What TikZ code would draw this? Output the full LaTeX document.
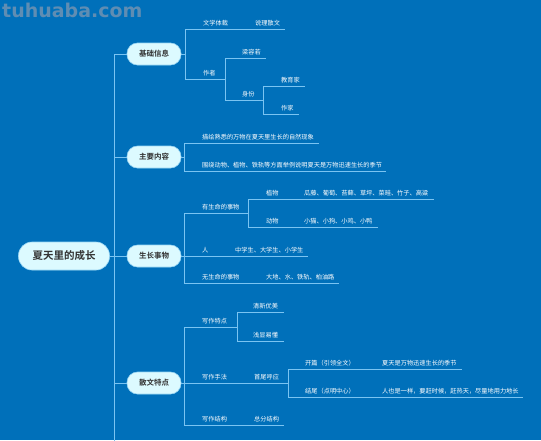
\documentclass[tikz,border=0pt]{standalone}
\usepackage{fontspec}
\newfontfamily\cjk{Noto Sans CJK SC}[BoldFont={Noto Sans CJK SC Bold}]
\setsansfont{DejaVu Sans}
\usepackage{xcolor}
\usepackage{tikz}
\usetikzlibrary{positioning,calc}
\definecolor{bgblue}{HTML}{0070BA}
\definecolor{linkblue}{HTML}{7AC4F2}
\definecolor{nodefill}{HTML}{DCFAFF}
\definecolor{nodeline}{HTML}{9AD6F4}
\definecolor{marktext}{HTML}{5F8DB3}

\begin{document}
\begin{tikzpicture}[
    x=1pt, y=-1pt,
    root/.style={rectangle, rounded corners=13.5pt, draw=nodeline, line width=0.6pt, fill=nodefill, minimum width=91pt, minimum height=28pt, text=black!80, font=\cjk\bfseries\fontsize{10.5}{12}\selectfont},
    topic/.style={rectangle, rounded corners=10.5pt, draw=nodeline, line width=0.6pt, fill=nodefill, minimum width=54pt, minimum height=22pt, text=black!80, font=\cjk\bfseries\fontsize{7.5}{9}\selectfont},
    leaf/.style={anchor=base west, inner sep=0pt, text=white, font=\cjk\fontsize{6.2}{7}\selectfont},
    link/.style={draw=linkblue, line width=0.8pt}
]
    \fill[bgblue] (0,0) rectangle (541,440);
    \useasboundingbox (0,0) rectangle (541,440);
    \node[anchor=base west, inner sep=0pt, text=marktext, font=\sffamily\bfseries\fontsize{19}{20}\selectfont] (mark) at (2,17.5) {tuhuaba.com};

    % Root
    \node[root] (root) at (64,256) {夏天里的成长};

    % Level 1
    \node[topic] (jcxx) at (154,54) {基础信息};
    \node[topic] (zynr) at (154,157) {主要内容};
    \node[topic] (szsw) at (154,256) {生长事物};
    \node[topic] (swtd) at (154,383) {散文特点};

    % Trunk
    \coordinate (t0) at (114,256);
    \coordinate (tb) at (114,441);
    \draw[link] (root) -- (t0);
    \draw[link] (t0) |- (jcxx.west);
    \draw[link] (t0) |- (zynr.west);
    \draw[link] (t0) -- (szsw.west);
    \draw[link] (t0) |- (swtd.west);
    \draw[link] (t0) -- (tb);

    % Basic info
    \coordinate (f1) at (185,54);
    \coordinate (f2) at (225,79);
    \coordinate (f3) at (263,100);
    \coordinate (e-wxtc) at (285,29);
    \coordinate (e-lrr) at (266,58);
    \coordinate (e-jyj) at (305,86);
    \coordinate (e-zj) at (299,114);
    \node[leaf] (wxtc) at (203,25.5) {文学体裁};
    \node[leaf] (slsw) at (255,25.5) {说理散文};
    \node[leaf] (zz) at (203,75.5) {作者};
    \node[leaf] (lrr) at (242,54.5) {梁容若};
    \node[leaf] (sf) at (242,96.5) {身份};
    \node[leaf] (jyj) at (281,82.5) {教育家};
    \node[leaf] (zj) at (281,110.5) {作家};
    \draw[link] (jcxx) -- (f1);
    \draw[link] (f1) |- (e-wxtc);
    \draw[link] (f1) |- (f2);
    \draw[link] (f2) |- (e-lrr);
    \draw[link] (f2) |- (f3);
    \draw[link] (f3) |- (e-jyj);
    \draw[link] (f3) |- (e-zj);

    % Main content
    \coordinate (f4) at (184,157);
    \coordinate (e-mh) at (319,143);
    \coordinate (e-wr) at (386,171);
    \node[leaf] (mh) at (202,139.5) {描绘熟悉的万物在夏天里生长的自然现象};
    \node[leaf] (wr) at (202,167.5) {围绕动物、植物、铁轨等方面举例说明夏天是万物迅速生长的季节};
    \draw[link] (zynr) -- (f4);
    \draw[link] (f4) |- (e-mh);
    \draw[link] (f4) |- (e-wr);

    % Growing things
    \coordinate (f5) at (184,256);
    \coordinate (f6) at (248,213);
    \coordinate (e-zw) at (434,199);
    \coordinate (e-dw) at (378,227);
    \coordinate (e-ren) at (308,256);
    \coordinate (e-wsm) at (339,283);
    \node[leaf] (ysm) at (202,209.5) {有生命的事物};
    \node[leaf] (zw) at (266,195.5) {植物};
    \node[leaf] (zwl) at (304,195.5) {瓜藤、葡萄、苔藓、草坪、菜畦、竹子、高粱};
    \node[leaf] (dw) at (266,223.5) {动物};
    \node[leaf] (dwl) at (304,223.5) {小猫、小狗、小鸡、小鸭};
    \node[leaf] (ren) at (202,252.5) {人};
    \node[leaf] (renl) at (235,252.5) {中学生、大学生、小学生};
    \node[leaf] (wsm) at (202,279.5) {无生命的事物};
    \node[leaf] (wsml) at (266,279.5) {大地、水、铁轨、柏油路};
    \draw[link] (szsw) -- (f5);
    \draw[link] (f5) |- (f6);
    \draw[link] (f6) |- (e-zw);
    \draw[link] (f6) |- (e-dw);
    \draw[link] (f5) -- (e-ren);
    \draw[link] (f5) |- (e-wsm);

    % Prose features
    \coordinate (f7) at (184,383);
    \coordinate (f8) at (237,327);
    \coordinate (f9) at (288,383);
    \coordinate (e-qx) at (284,312);
    \coordinate (e-qxyd) at (284,341);
    \coordinate (e-kp) at (462,369);
    \coordinate (e-jw) at (523,397);
    \coordinate (e-xzjg) at (284,425);
    \node[leaf] (xztd) at (202,323.5) {写作特点};
    \node[leaf] (qx) at (253,308.5) {清新优美};
    \node[leaf] (qxyd) at (253,337.5) {浅显易懂};
    \node[leaf] (xzsf) at (202,379.5) {写作手法};
    \node[leaf] (swhy) at (254,379.5) {首尾呼应};
    \node[leaf] (kp) at (305,365.5) {开篇（引领全文）};
    \node[leaf] (kpl) at (382,365.5) {夏天是万物迅速生长的季节};
    \node[leaf] (jw) at (305,393.5) {结尾（点明中心）};
    \node[leaf] (jwl) at (382,393.5) {人也是一样，要赶时候，赶热天，尽量地用力地长};
    \node[leaf] (xzjg) at (202,421.5) {写作结构};
    \node[leaf] (zfjg) at (254,421.5) {总分结构};
    \draw[link] (swtd) -- (f7);
    \draw[link] (f7) |- (f8);
    \draw[link] (f8) |- (e-qx);
    \draw[link] (f8) |- (e-qxyd);
    \draw[link] (f7) -- (f9);
    \draw[link] (f9) |- (e-kp);
    \draw[link] (f9) |- (e-jw);
    \draw[link] (f7) |- (e-xzjg);
\end{tikzpicture}
\end{document}
